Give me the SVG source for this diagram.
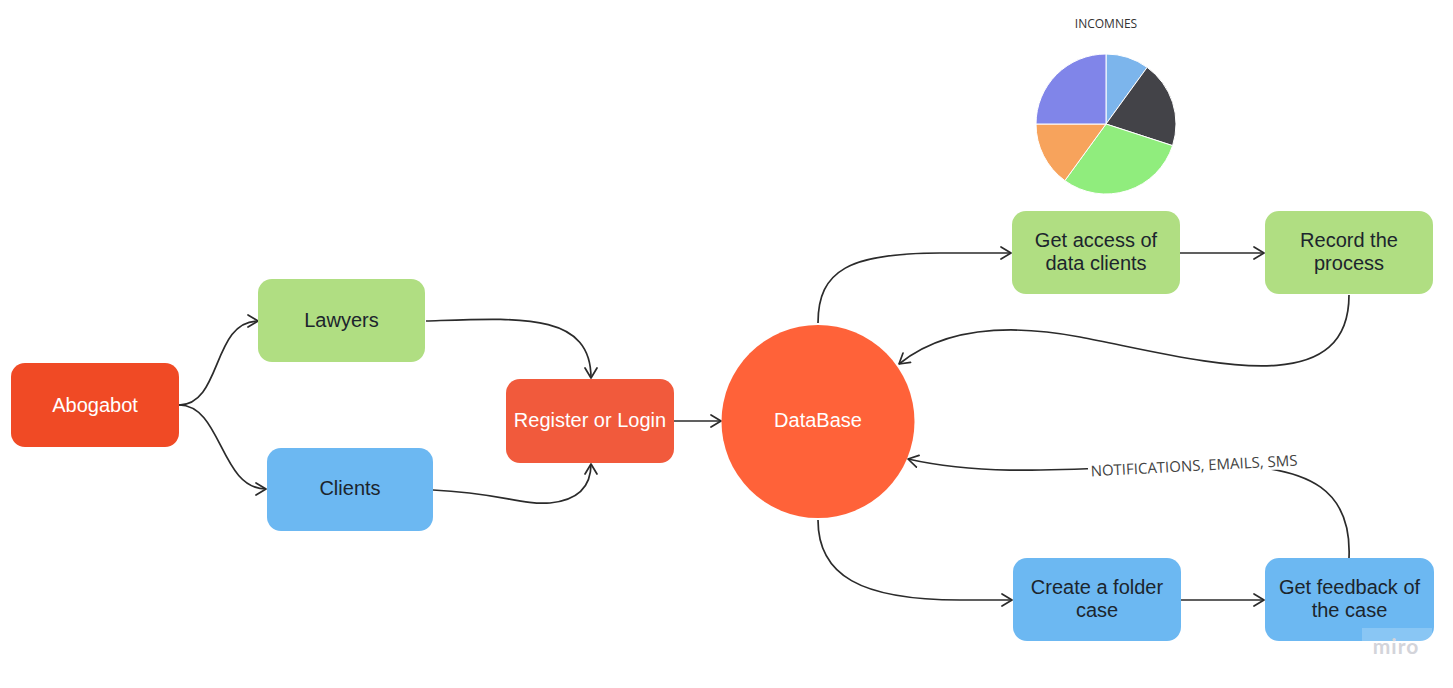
<svg xmlns="http://www.w3.org/2000/svg" width="1453" height="688" viewBox="0 0 1453 688">
  <defs>
    <marker id="arrow" viewBox="0 0 12 14" refX="11" refY="7" markerWidth="12" markerHeight="14" markerUnits="userSpaceOnUse" orient="auto">
      <path d="M1,1 L11,7 L1,13" fill="none" stroke="#2b2b2b" stroke-width="1.7" stroke-linecap="round" stroke-linejoin="round"/>
    </marker>
    <style>
      .node-text { font-family: "Liberation Sans", Arial, sans-serif; font-size: 20px; text-anchor: middle; }
      .light { fill: #ffffff; }
      .dark { fill: #1c252d; }
      .green { fill: #b0de82; }
      .blue { fill: #6cb8f2; }
      .conn { fill: none; stroke: #2b2b2b; stroke-width: 1.7; marker-end: url(#arrow); }
      .label { font-family: "Open Sans", "Noto Sans", sans-serif; font-size: 15px; fill: #444444; }
      .slice { stroke: #ffffff; stroke-width: 1; stroke-linejoin: round; }
    </style>
  </defs>

  <rect x="0" y="0" width="1453" height="688" fill="#ffffff"/>

  <!-- income pie chart -->
  <g id="incomes-chart">
    <text x="1106" y="28" font-family="'Open Sans', 'Noto Sans', sans-serif" font-size="12" text-anchor="middle" fill="#333333">INCOMNES</text>
    <path class="slice" fill="#7cb5ec" d="M1106,124 L1106,54 A70,70 0 0 1 1147.15,67.37 Z"/>
    <path class="slice" fill="#434348" d="M1106,124 L1147.15,67.37 A70,70 0 0 1 1172.58,145.63 Z"/>
    <path class="slice" fill="#90ed7d" d="M1106,124 L1172.58,145.63 A70,70 0 0 1 1064.85,180.63 Z"/>
    <path class="slice" fill="#f7a35c" d="M1106,124 L1064.85,180.63 A70,70 0 0 1 1036,124 Z"/>
    <path class="slice" fill="#8085e9" d="M1106,124 L1036,124 A70,70 0 0 1 1106,54 Z"/>
  </g>

  <!-- connectors -->
  <g id="connectors">
    <path class="conn" d="M179,405 C 222,405 212,321 258,321"/>
    <path class="conn" d="M179,405 C 222,405 220,489 266,489"/>
    <path class="conn" d="M426,321 C 520,318 591,312 591,378"/>
    <path class="conn" d="M433,490 C 500,493 520,505 550,503 C 580,500 591,485 591,464"/>
    <path class="conn" d="M674,421 L721,421"/>
    <path class="conn" d="M818,323 C 818,270 850,253 940,253 L1011,253"/>
    <path class="conn" d="M1180,253 L1264,253"/>
    <path class="conn" d="M1349,295 C 1349,405 1200,360 1080,337 C 990,320 935,335 899,364"/>
    <path class="conn" d="M818,520 C 818,575 860,600 960,600 L1012,600"/>
    <path class="conn" d="M1181,600 L1264,600"/>
    <path class="conn" d="M1349,558 C 1352,490 1310,468 1230,465 C 1120,462 1010,482 908,459"/>
    <g transform="rotate(-3 1194 466)">
      <rect x="1088" y="455" width="212" height="19" fill="#ffffff"/>
      <text x="1194" y="471" class="label" text-anchor="middle">NOTIFICATIONS, EMAILS, SMS</text>
    </g>
  </g>

  <g id="abogabot">
    <rect x="11" y="363" width="168" height="84" rx="14" fill="#f04a25"/>
    <text x="95" y="412" class="node-text light">Abogabot</text>
  </g>

  <g id="lawyers">
    <rect x="258" y="279" width="167" height="83" rx="14" class="green"/>
    <text x="341.5" y="327" class="node-text dark">Lawyers</text>
  </g>

  <g id="clients">
    <rect x="267" y="448" width="166" height="83" rx="14" class="blue"/>
    <text x="350" y="495" class="node-text dark">Clients</text>
  </g>

  <g id="register-login">
    <rect x="506" y="379" width="168" height="84" rx="14" fill="#f15a3c"/>
    <text x="590" y="427" class="node-text light">Register or Login</text>
  </g>

  <g id="database">
    <circle cx="818" cy="421.5" r="96.5" fill="#ff6239"/>
    <text x="818" y="427" class="node-text light">DataBase</text>
  </g>

  <g id="get-access">
    <rect x="1012" y="211" width="168" height="83" rx="14" class="green"/>
    <text x="1096" y="247" class="node-text dark">Get access of</text>
    <text x="1096" y="270" class="node-text dark">data clients</text>
  </g>

  <g id="record-process">
    <rect x="1265" y="211" width="168" height="83" rx="14" class="green"/>
    <text x="1349" y="247" class="node-text dark">Record the</text>
    <text x="1349" y="270" class="node-text dark">process</text>
  </g>

  <g id="create-folder">
    <rect x="1013" y="558" width="168" height="83" rx="14" class="blue"/>
    <text x="1097" y="594" class="node-text dark">Create a folder</text>
    <text x="1097" y="617" class="node-text dark">case</text>
  </g>

  <g id="get-feedback">
    <rect x="1265" y="558" width="169" height="83" rx="14" class="blue"/>
    <text x="1349.5" y="594" class="node-text dark">Get feedback of</text>
    <text x="1349.5" y="617" class="node-text dark">the case</text>
  </g>

  <!-- board watermark -->
  <g id="watermark">
    <rect x="1362" y="628" width="70" height="30" fill="#ffffff" opacity="0.2"/>
    <text x="1396" y="654" font-family="Lato, 'Open Sans', sans-serif" font-size="21" font-weight="bold" fill="#d3d4da" text-anchor="middle" letter-spacing="1">miro</text>
  </g>
</svg>
